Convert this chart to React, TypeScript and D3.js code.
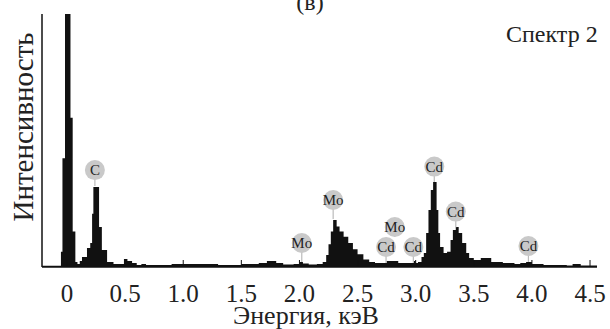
import React from "react";
import * as d3 from "d3";

// spectrum (energy in keV, intensity in % of the plot height)
const energies = [
  -0.215, -0.052, -0.039, -0.017, 0.03, 0.049, 0.072, 0.09, 0.11, 0.129, 0.172, 0.2, 0.216, 0.227, 0.241, 0.276, 0.3,
  0.345, 0.4, 0.49, 0.52, 0.56, 0.6, 0.64, 0.68, 0.9, 1.05, 1.3, 1.5, 1.65, 1.72, 1.8, 1.86, 1.95, 2.0, 2.03, 2.08,
  2.15, 2.2, 2.23, 2.25, 2.27, 2.29, 2.32, 2.345, 2.38, 2.42, 2.46, 2.5, 2.55, 2.6, 2.65, 2.75, 2.8, 2.85, 2.95, 2.98,
  3.0, 3.02, 3.05, 3.07, 3.09, 3.11, 3.13, 3.15, 3.18, 3.195, 3.21, 3.24, 3.27, 3.3, 3.32, 3.345, 3.37, 3.4, 3.435,
  3.46, 3.5, 3.56, 3.65, 3.75, 3.85, 3.9, 3.95, 4.0, 4.1, 4.3, 4.35, 4.42, 4.56,
];
const counts = [
  0.5, 6, 43, 120, 59, 14, 2, 1.2, 2.4, 4, 7.5, 9.5, 21, 31.6, 31.6, 15.8, 6.7,
  2, 1.2, 3.2, 2.4, 1.6, 0.8, 1.2, 0.8, 1.2, 1.2, 0.8, 1.2, 1.6, 2.4, 1.6, 1.0, 1.2, 2, 1.4, 1.0,
  1.2, 2, 4.7, 9, 14, 18.6, 16, 14, 12, 9.5, 7, 5, 3, 2, 1.6, 2.4, 2.4, 1.6, 1.6, 2.4,
  1.6, 2, 4, 5.5, 13.4, 22.5, 30.4, 33.6, 22.5, 13.4, 7.9, 5.5, 6, 10.7, 14.6, 15.8, 13.4, 9.5, 5.5,
  3.6, 2.8, 3.6, 2, 1.6, 1.2, 1.6, 2, 1.2, 0.8, 0.6, 1.2, 0.6, 0.6,
];

const tickValues = [0, 0.5, 1.0, 1.5, 2.0, 2.5, 3.0, 3.5, 4.0, 4.5];
const tickLabels = ["0", "0.5", "1.0", "1.5", "2.0", "2.5", "3.0", "3.5", "4.0", "4.5"];

// peak markers
const peakElements = ["C", "Mo", "Mo", "Cd", "Mo", "Cd", "Cd", "Cd", "Cd"];
const peakEnergies = [0.24, 2.02, 2.29, 2.745, 2.82, 2.98, 3.16, 3.345, 3.97];
const peakTops = [32, 2, 19, 1.6, 11.9, 1.6, 33.6, 15.6, 2];
const markerLevels = [38.3, 9.5, 26.5, 7.9, 15.8, 7.9, 39.7, 21.9, 8.3];

const W = 610;
const H = 329;
const FONT = "Liberation Serif";

export default function App() {
  const x = d3.scaleLinear().domain([-0.215, 4.56]).range([42, 597]);
  const y = d3.scaleLinear().domain([0, 100]).range([267, 14]);

  const data = energies.map((e, i) => ({ e, c: counts[i] }));
  const area = d3
    .area<{ e: number; c: number }>()
    .curve(d3.curveStepAfter)
    .x((d) => x(d.e))
    .y0(y(0))
    .y1((d) => y(d.c));

  const r = 10;

  return (
    <svg width={W} height={H} style={{ position: "absolute", left: 0, top: 0 }}>
      <rect width={W} height={H} fill="#fff" />
      <defs>
        <clipPath id="plot">
          <rect x={x.range()[0]} y={y.range()[1]} width={x.range()[1] - x.range()[0]} height={y.range()[0] - y.range()[1]} />
        </clipPath>
      </defs>

      <text x={310} y={10} fontSize={24} textAnchor="middle" fill="#222" fontFamily={FONT}>
        (в)
      </text>

      <path d={area(data) || ""} fill="#111" clipPath="url(#plot)" />

      {/* axes */}
      <line x1={x.range()[0]} x2={x.range()[0]} y1={y.range()[1]} y2={y(0)} stroke="#111" strokeWidth={1.5} />
      <line x1={x.range()[0]} x2={x.range()[1]} y1={y(0)} y2={y(0)} stroke="#111" strokeWidth={1.5} />
      {tickValues.map((t) => (
        <line key={t} x1={x(t)} x2={x(t)} y1={y(0)} y2={y(0) - 7} stroke="#111" strokeWidth={1} />
      ))}
      {tickValues.map((t, i) => (
        <text key={"l" + t} x={x(t)} y={302} fontSize={25} textAnchor="middle" fill="#222" fontFamily={FONT}>
          {tickLabels[i]}
        </text>
      ))}

      <text x={306} y={324} fontSize={26} textAnchor="middle" fill="#222" fontFamily={FONT}>
        Энергия, кэВ
      </text>
      <text transform={`translate(33,127) rotate(-90)`} fontSize={29} textAnchor="middle" fill="#222" fontFamily={FONT}>
        Интенсивность
      </text>
      <text x={506} y={42} fontSize={24} fill="#222" fontFamily={FONT}>
        Спектр 2
      </text>

      {/* peak markers */}
      {peakEnergies.map((e, i) => (
        <line
          key={"pl" + i}
          x1={x(e)}
          x2={x(e)}
          y1={y(markerLevels[i])}
          y2={y(peakTops[i])}
          stroke="#bbb"
          strokeWidth={1.2}
        />
      ))}
      {peakEnergies.map((e, i) => (
        <g key={"pm" + i} transform={`translate(${x(e)},${y(markerLevels[i])})`}>
          <circle r={r} fill="#c9c9c9" />
          <text y={5} fontSize={15} textAnchor="middle" fill="#222" fontFamily={FONT}>
            {peakElements[i]}
          </text>
        </g>
      ))}
    </svg>
  );
}
